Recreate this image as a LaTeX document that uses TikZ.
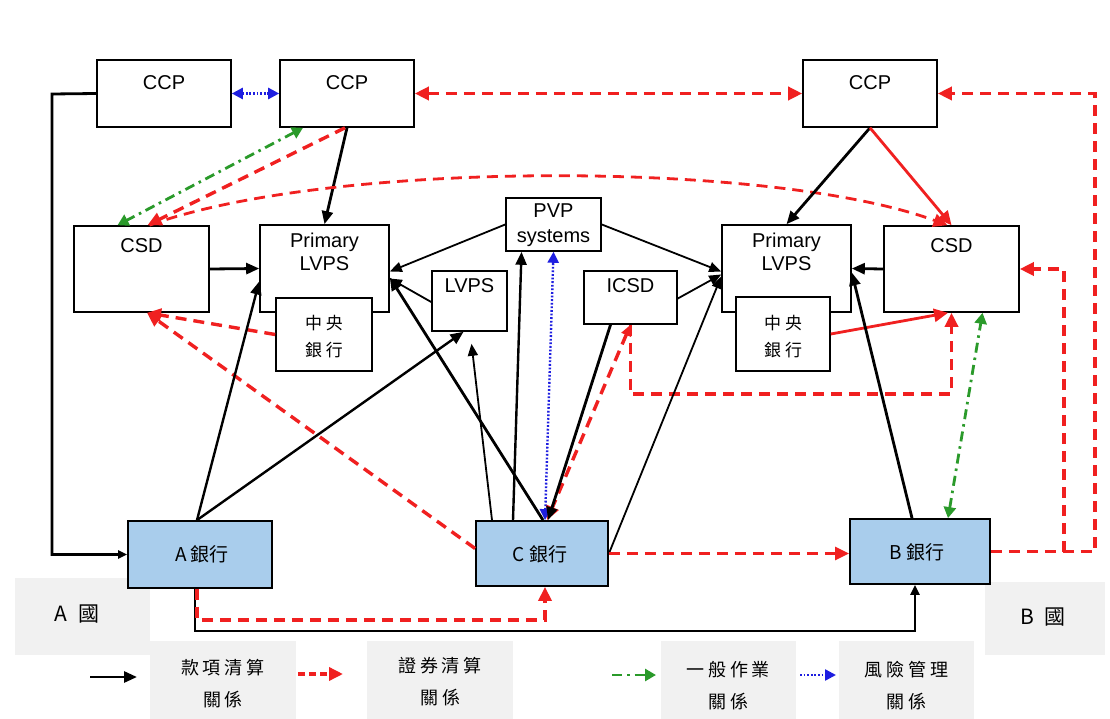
\documentclass[tikz,border=0pt]{standalone}
\usepackage{fontspec}
\setmainfont{Liberation Sans}
\newfontfamily\cjk{Noto Sans CJK TC}
\usetikzlibrary{arrows.meta}
\definecolor{bankblue}{HTML}{A9CDEC}
\definecolor{rred}{HTML}{F02020}
\definecolor{ggreen}{HTML}{2A9A2A}
\definecolor{bblue}{HTML}{1E1EE0}
\definecolor{lgray}{HTML}{F1F1F1}
\newcommand\gsp{\hspace{4pt}}
\begin{document}
\begin{tikzpicture}[x=1pt,y=-1pt,
  box/.style={draw=black, line width=1.6pt, fill=white, inner sep=0pt},
  bank/.style={box, fill=bankblue, line width=1.8pt},
  lbl/.style={font=\fontsize{20}{23}\selectfont, inner sep=0pt, align=center},
  clbl/.style={font=\cjk\fontsize{17}{27}\selectfont, inner sep=0pt, align=center},
  blbl/.style={font=\cjk\fontsize{19}{22}\selectfont, inner sep=0pt},
  lglbl/.style={font=\cjk\fontsize{18}{32}\selectfont, inner sep=0pt, align=center},
  graybox/.style={fill=lgray, draw=none, inner sep=0pt},
  pay/.style={draw=black, line width=2.8pt, -{Triangle[length=13pt,width=11pt]}},
  payt/.style={draw=black, line width=1.8pt, -{Triangle[length=12pt,width=10pt]}},
  sec/.style={draw=rred, line width=3.4pt, dash pattern=on 11pt off 7pt, -{Triangle[length=14pt,width=13pt]}},
  secs/.style={draw=rred, line width=2.8pt, -{Triangle[length=14pt,width=13pt]}},
  gen/.style={draw=ggreen, line width=2.8pt, dash pattern=on 10pt off 5pt on 2.5pt off 5pt, {Triangle[length=11pt,width=12pt]}-{Triangle[length=11pt,width=12pt]}},
  risk/.style={draw=bblue, line width=2.4pt, dash pattern=on 1.8pt off 1.8pt, {Triangle[length=11pt,width=11pt]}-{Triangle[length=11pt,width=11pt]}}
]
\useasboundingbox (0,0) rectangle (1110,719);
\fill[white] (0,0) rectangle (1110,719);

% gray label areas
\node[graybox, minimum width=135pt, minimum height=77pt] (areaA) at (82,616) {};
\node[blbl, font=\cjk\fontsize{21}{24}\selectfont] (areaAt) at (77,614) {A\hspace{11pt}國};
\node[graybox, minimum width=120pt, minimum height=73pt] (areaB) at (1045,618) {};
\node[blbl, font=\cjk\fontsize{21}{24}\selectfont] (areaBt) at (1043,617) {B\hspace{11pt}國};

% boxes
\node[box, minimum width=134pt, minimum height=67pt] (ccp1) at (164,93.5) {};
\node[lbl] (ccp1t) at (164,82.5) {CCP};
\node[box, minimum width=134pt, minimum height=67pt] (ccp2) at (347,93.5) {};
\node[lbl] (ccp2t) at (347,82.5) {CCP};
\node[box, minimum width=134pt, minimum height=67pt] (ccp3) at (870,93.5) {};
\node[lbl] (ccp3t) at (870,82.5) {CCP};

\node[box, minimum width=135pt, minimum height=86pt] (csd1) at (141.5,269) {};
\node[lbl] (csd1t) at (141.5,246) {CSD};
\node[box, minimum width=135pt, minimum height=86pt] (csd2) at (951.5,269) {};
\node[lbl] (csd2t) at (951.5,246) {CSD};

\node[box, minimum width=129pt, minimum height=87pt] (plvps1) at (324.5,268.5) {};
\node[lbl] (plvps1t) at (324.5,252) {Primary\\LVPS};
\node[box, minimum width=129pt, minimum height=87pt] (plvps2) at (786.5,268.5) {};
\node[lbl] (plvps2t) at (786.5,252) {Primary\\LVPS};

\node[box, minimum width=96pt, minimum height=73pt] (cb1) at (324,334.5) {};
\node[clbl] (cb1t) at (324,337) {中\gsp 央\\銀\gsp 行};
\node[box, minimum width=94pt, minimum height=74pt] (cb2) at (783,334) {};
\node[clbl] (cb2t) at (783,336.5) {中\gsp 央\\銀\gsp 行};

\node[box, minimum width=95pt, minimum height=53pt] (pvp) at (553.5,224.5) {};
\node[lbl, font=\fontsize{20}{25}\selectfont] (pvpt) at (553.5,225) {PVP\\systems};
\node[box, minimum width=75pt, minimum height=60pt] (lvps) at (469.5,301) {};
\node[lbl] (lvpst) at (469.5,286) {LVPS};
\node[box, minimum width=93pt, minimum height=53pt] (icsd) at (630.5,297.5) {};
\node[lbl] (icsdt) at (630.5,286) {ICSD};

\node[bank, minimum width=144pt, minimum height=67pt] (bankA) at (200,554.5) {};
\node[blbl] (bankAt) at (202,554) {A\gsp 銀行};
\node[bank, minimum width=132pt, minimum height=65pt] (bankC) at (542,553.5) {};
\node[blbl] (bankCt) at (540,554) {C\gsp 銀行};
\node[bank, minimum width=140pt, minimum height=65pt] (bankB) at (920,551.5) {};
\node[blbl] (bankBt) at (917,552) {B\gsp 銀行};

% connectors: top row
\coordinate (k1) at (52,94);
\draw[pay, -{Triangle[length=9pt,width=8pt]}] (ccp1.west) -- (k1) |- (bankA.west);
\draw[risk] (ccp1.east) -- (ccp2.west);
\draw[sec, {Triangle[length=14pt,width=13pt]}-{Triangle[length=14pt,width=13pt]}] (ccp2.east) -- (ccp3.west);
\draw[pay] (ccp2.south) -- (plvps1.north);
\draw[sec] ([xshift=-2pt]ccp2.south) -- ([xshift=6pt]csd1.north);
\draw[gen] ([xshift=-44pt]ccp2.south) -- ([xshift=-24pt]csd1.north);
\draw[sec, line width=2.8pt] ([xshift=8pt]csd1.north) .. controls (330,160) and (770,160) .. ([xshift=-4pt]csd2.north);
\draw[pay] (ccp3.south) -- (plvps2.north);
\draw[secs] (ccp3.south) -- (csd2.north);
\coordinate (k2) at (1095,551.5);
\coordinate (k3) at (1064,551.5);
\draw[sec] (bankB.east) -- (k2) |- (ccp3.east);
\draw[sec] (k3) |- (csd2.east);

% middle
\draw[pay] (csd1.east) -- (plvps1.west);
\draw[pay] (csd2.west) -- (plvps2.east);
\draw[sec] (cb1.west) -- ([xshift=5.5pt]csd1.south);
\draw[sec] ([yshift=5pt]bankC.west) -- ([xshift=5.5pt]csd1.south);
\draw[secs] (cb2.east) -- ([xshift=-3.5pt]csd2.south);
\coordinate (k4) at (630.5,394);
\draw[sec] (icsd.south) -- (k4) -| (csd2.south);
\draw[sec, {Triangle[length=11pt,width=10pt]}-{Triangle[length=14pt,width=13pt]}] (icsd.south) -- ([xshift=5pt]bankC.north);

\draw[payt] (pvp.west) -- ([yshift=-3pt]plvps1.east);
\draw[payt] (pvp.east) -- ([yshift=-3pt]plvps2.west);
\draw[payt] ([yshift=-1pt]lvps.west) -- ([yshift=-10pt]plvps1.east);
\draw[payt] ([yshift=-1pt]icsd.east) -- ([yshift=-6pt]plvps2.west);

\draw[pay, line width=2.4pt] ([xshift=-3pt]bankA.north) -- ([yshift=-13pt]plvps1.west);
\draw[pay, line width=2.4pt] ([xshift=-3pt]bankA.north) -- ([xshift=-6pt]lvps.south);
\draw[payt] ([xshift=-50pt]bankC.north) -- ([xshift=2pt,yshift=-12pt]lvps.south);
\draw[pay, line width=2.4pt] ([xshift=-29pt]bankC.north) -- ([xshift=-32pt]pvp.south);
\draw[risk] ([xshift=3pt]bankC.north) -- (pvp.south);
\draw[pay] ([xshift=1pt]bankC.north) -- ([yshift=-9pt]plvps1.east);
\draw[pay] ([xshift=-20pt]icsd.south) -- ([xshift=6pt]bankC.north);
\draw[payt] (bankC.east) -- ([yshift=-8pt]plvps2.west);
\draw[pay] ([xshift=-8pt]bankB.north) -- ([yshift=-4pt]plvps2.east);
\draw[gen] ([xshift=28pt]bankB.north) -- ([xshift=31pt]csd2.south);

% bottom
\draw[sec, line width=2.8pt] (bankC.east) -- (bankC.east -| bankB.west);
\coordinate (kAB) at (195,631);
\draw[pay, line width=2.4pt, -{Triangle[length=10pt,width=9pt]}] ([xshift=-5pt]bankA.south) -- (kAB) -| ([xshift=-5pt]bankB.south);
\coordinate (kAC) at (197,620);
\draw[sec] ([xshift=-3pt]bankA.south) -- (kAC) -| ([xshift=3pt]bankC.south);

% legend
\coordinate (l1a) at (90,677); \coordinate (l1b) at (137,677);
\draw[pay] (l1a) -- (l1b);
\node[graybox, minimum width=146pt, minimum height=79pt] (g1) at (223,680) {};
\node[lglbl] (g1t) at (223,684) {款\gsp 項\gsp 清\gsp 算\\關\gsp 係};
\coordinate (l2a) at (298,674); \coordinate (l2b) at (343,674);
\draw[sec, dash pattern=on 7pt off 4pt] (l2a) -- (l2b);
\node[graybox, minimum width=146pt, minimum height=79pt] (g2) at (440,680) {};
\node[lglbl] (g2t) at (440,682) {證\gsp 券\gsp 清\gsp 算\\關\gsp 係};
\coordinate (l3a) at (612,675); \coordinate (l3b) at (656,675);
\draw[gen, -{Triangle[length=11pt,width=12pt]}] (l3a) -- (l3b);
\node[graybox, minimum width=135pt, minimum height=79pt] (g3) at (728,680) {};
\node[lglbl] (g3t) at (728,686) {一\gsp 般\gsp 作\gsp 業\\關\gsp 係};
\coordinate (l4a) at (800,675); \coordinate (l4b) at (836,675);
\draw[risk, -{Triangle[length=11pt,width=11pt]}] (l4a) -- (l4b);
\node[graybox, minimum width=135pt, minimum height=79pt] (g4) at (906,680) {};
\node[lglbl] (g4t) at (906,686) {風\gsp 險\gsp 管\gsp 理\\關\gsp 係};
\end{tikzpicture}
\end{document}
